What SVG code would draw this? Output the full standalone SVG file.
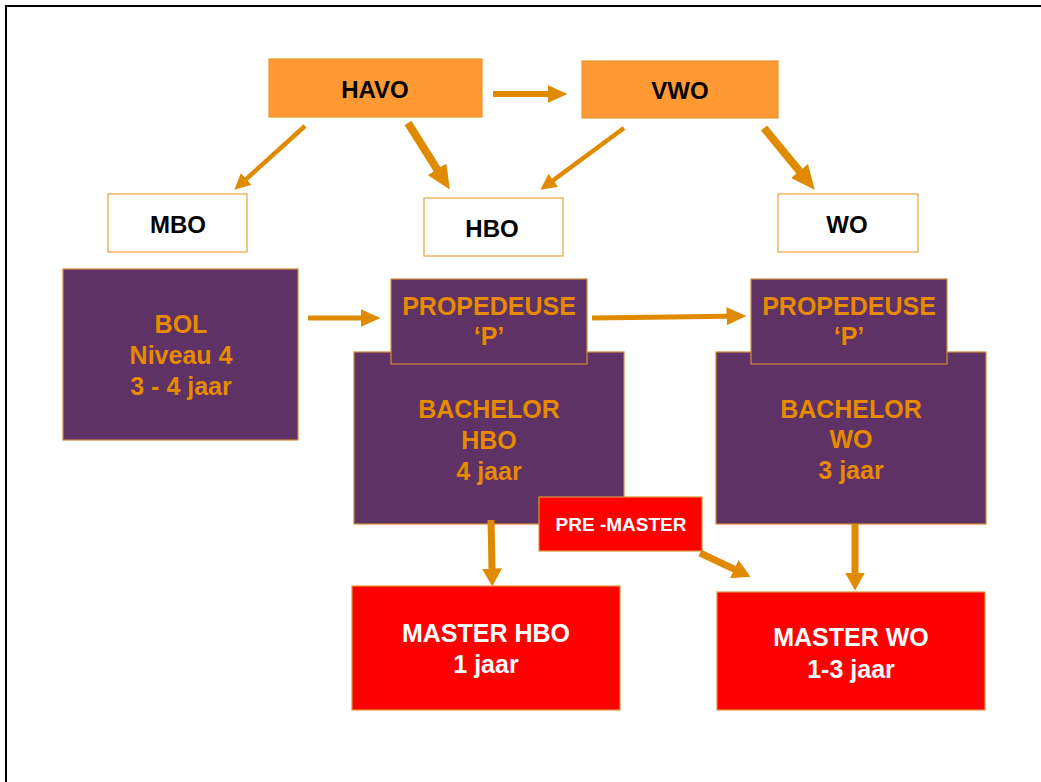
<svg xmlns="http://www.w3.org/2000/svg" width="1041" height="782" viewBox="0 0 1041 782">
<style>
.t{font-family:"Liberation Sans",Arial,sans-serif;font-weight:bold;text-anchor:middle}
.blk{fill:#000;font-size:24px}
.org{fill:#E68A00;font-size:25px}
.wht{fill:#fff;font-size:25px}
.top{fill:#FF9933;stroke:#E8952E;stroke-width:1.2}
.lvl{fill:#fff;stroke:#E8A33C;stroke-width:1.2}
.pur{fill:#5E3264;stroke:#D08A3A;stroke-width:1.2}
.red{fill:#FF0000;stroke:#E0953A;stroke-width:1.2}
.ar{stroke:#E08A00;fill:none}
</style>
<defs>
<marker id="hA" markerUnits="userSpaceOnUse" viewBox="0 -9 20 18" markerWidth="20" markerHeight="18" refX="0.5" refY="0" orient="auto"><path d="M0,-9 L20,0 L0,9 z" fill="#E08A00"/></marker>
<marker id="hB" markerUnits="userSpaceOnUse" viewBox="0 -8 16 16" markerWidth="16" markerHeight="16" refX="0.5" refY="0" orient="auto"><path d="M0,-8 L16,0 L0,8 z" fill="#E08A00"/></marker>
<marker id="hC" markerUnits="userSpaceOnUse" viewBox="0 -11 24 22" markerWidth="24" markerHeight="22" refX="0.5" refY="0" orient="auto"><path d="M0,-11 L24,0 L0,11 z" fill="#E08A00"/></marker>
<marker id="hD" markerUnits="userSpaceOnUse" viewBox="0 -10 18 20" markerWidth="18" markerHeight="20" refX="0.5" refY="0" orient="auto"><path d="M0,-10 L18,0 L0,10 z" fill="#E08A00"/></marker>
</defs>
<rect width="1041" height="782" fill="#fff"/>
<path d="M6,782 V6 H1041" fill="none" stroke="#000" stroke-width="2"/>

<g id="havo"><rect class="top" x="269" y="59" width="213" height="58"/><text class="t blk" x="375" y="98">HAVO</text></g>
<g id="vwo"><rect class="top" x="582" y="61" width="196" height="57"/><text class="t blk" x="680" y="99">VWO</text></g>
<g id="mbo"><rect class="lvl" x="108" y="194" width="139" height="58"/><text class="t blk" x="178" y="233">MBO</text></g>
<g id="hbo"><rect class="lvl" x="424" y="198" width="139" height="58"/><text class="t blk" x="492" y="237">HBO</text></g>
<g id="wo"><rect class="lvl" x="778" y="194" width="140" height="58"/><text class="t blk" x="847" y="233">WO</text></g>

<g id="bol"><rect class="pur" x="63" y="269" width="235" height="171"/>
<text class="t org" x="181" y="333">BOL</text><text class="t org" x="181" y="364">Niveau 4</text><text class="t org" x="181" y="395">3 - 4 jaar</text></g>

<g id="bachelor-hbo"><rect class="pur" x="354" y="352" width="270" height="172"/>
<text class="t org" x="489" y="418">BACHELOR</text><text class="t org" x="489" y="449">HBO</text><text class="t org" x="489" y="480">4 jaar</text></g>
<g id="propedeuse-hbo"><rect class="pur" x="391" y="279" width="196" height="85"/>
<text class="t org" x="489" y="315">PROPEDEUSE</text><text class="t org" x="489" y="345">‘P’</text></g>

<g id="bachelor-wo"><rect class="pur" x="716" y="352" width="270" height="172"/>
<text class="t org" x="851" y="418">BACHELOR</text><text class="t org" x="851" y="448">WO</text><text class="t org" x="851" y="479">3 jaar</text></g>
<g id="propedeuse-wo"><rect class="pur" x="751" y="279" width="196" height="85"/>
<text class="t org" x="849" y="315">PROPEDEUSE</text><text class="t org" x="849" y="345">‘P’</text></g>

<g id="master-hbo"><rect class="red" x="352" y="586" width="268" height="124"/>
<text class="t wht" x="486" y="642">MASTER HBO</text><text class="t wht" x="486" y="673">1 jaar</text></g>
<g id="master-wo"><rect class="red" x="717" y="592" width="268" height="118"/>
<text class="t wht" x="851" y="646">MASTER WO</text><text class="t wht" x="851" y="678">1-3 jaar</text></g>
<g id="pre-master"><rect class="red" x="539" y="497" width="163" height="54"/>
<text class="t wht" x="621" y="531" style="font-size:19px">PRE -MASTER</text></g>

<g id="connectors" class="ar">
<line class="ar" x1="493" y1="94" x2="548" y2="94" stroke-width="6" marker-end="url(#hA)"/>
<line class="ar" x1="305" y1="126" x2="245.9" y2="179.3" stroke-width="4.5" marker-end="url(#hB)"/>
<line class="ar" x1="408" y1="123" x2="437.3" y2="169.7" stroke-width="8" marker-end="url(#hC)"/>
<line class="ar" x1="624" y1="128" x2="552.9" y2="180.5" stroke-width="4.5" marker-end="url(#hB)"/>
<line class="ar" x1="764" y1="128" x2="799.8" y2="171.5" stroke-width="8" marker-end="url(#hC)"/>
<line class="ar" x1="308" y1="318" x2="361" y2="318" stroke-width="5" marker-end="url(#hA)"/>
<line class="ar" x1="592" y1="318" x2="727" y2="316.3" stroke-width="5" marker-end="url(#hA)"/>
<line class="ar" x1="491" y1="520" x2="492" y2="569" stroke-width="7" marker-end="url(#hD)"/>
<line class="ar" x1="855" y1="524" x2="855" y2="573" stroke-width="7" marker-end="url(#hD)"/>
<line class="ar" x1="700" y1="553" x2="734.7" y2="569.3" stroke-width="7" marker-end="url(#hD)"/>
</g>
</svg>
